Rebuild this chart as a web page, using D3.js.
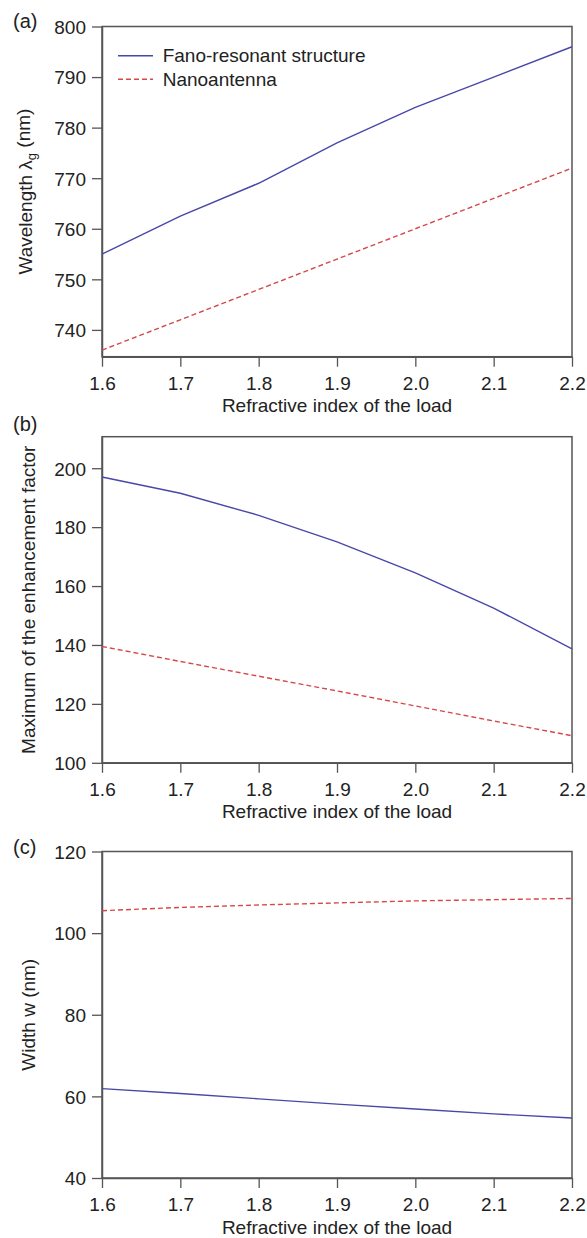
<!DOCTYPE html>
<html>
<head>
<meta charset="utf-8">
<script src="https://cdn.jsdelivr.net/npm/d3@7"></script>
<style>
  html, body { margin: 0; padding: 0; background: #fff; }
  svg { display: block; font-family: "Liberation Sans", Arial, Helvetica, sans-serif; }
</style>
</head>
<body>
<svg id="chart" width="587" height="1238"></svg>
<script>
// Refractive index of the load (shared x values)
const refractiveIndex = [1.6, 1.7, 1.8, 1.9, 2.0, 2.1, 2.2];

// (a) resonance wavelength, nm
const wavelengthFano    = [755, 762.5, 769, 777, 784, 790, 796];
const wavelengthAntenna = [736, 742, 748, 754, 760, 766, 772];

// (b) maximum of the enhancement factor
const enhancementFano    = [197, 191.5, 184, 175, 164.5, 152.5, 138.7];
const enhancementAntenna = [139.5, 134.4, 129.4, 124.4, 119.3, 114.2, 109.2];

// (c) width w, nm
const widthFano    = [61.9, 60.7, 59.4, 58.1, 56.9, 55.7, 54.7];
const widthAntenna = [105.5, 106.3, 106.9, 107.4, 107.9, 108.2, 108.5];

// tick values
const xTicks           = [1.6, 1.7, 1.8, 1.9, 2.0, 2.1, 2.2];
const wavelengthTicks  = [740, 750, 760, 770, 780, 790, 800];
const enhancementTicks = [100, 120, 140, 160, 180, 200];
const widthTicks       = [40, 60, 80, 100, 120];

const seriesNames = ["Fano-resonant structure", "Nanoantenna"];

const FANO_COLOR = "#4848a8";
const ANTENNA_COLOR = "#d4484c";
const AXIS_COLOR = "#555";
const TEXT_COLOR = "#222";
const FONT = 19;

const svg = d3.select("#chart");

const x0 = 102, x1 = 572;

const panels = [
  { tag: "(a)", top: 26.5, bottom: 356.7, domain: [734.7, 800], ticks: wavelengthTicks,
    fano: wavelengthFano, antenna: wavelengthAntenna, labelX: 32, legend: true,
    ylabel: ["Wavelength \u03bb", "g", " (nm)"], tagY: 27.5 },
  { tag: "(b)", top: 436.7, bottom: 762.8, domain: [100, 210.7], ticks: enhancementTicks,
    fano: enhancementFano, antenna: enhancementAntenna, labelX: 35,
    ylabel: ["Maximum of the enhancement factor"], tagY: 431 },
  { tag: "(c)", top: 851.5, bottom: 1178, domain: [40, 120], ticks: widthTicks,
    fano: widthFano, antenna: widthAntenna, labelX: 35,
    ylabel: ["Width w (nm)"], tagY: 854 }
];

panels.forEach(p => {
  const x = d3.scaleLinear().domain([1.6, 2.2]).range([x0, x1]);
  const y = d3.scaleLinear().domain(p.domain).range([p.bottom, p.top]);
  const g = svg.append("g");

  // plot frame
  g.append("rect")
    .attr("x", x0).attr("y", p.top)
    .attr("width", x1 - x0).attr("height", p.bottom - p.top)
    .attr("fill", "none").attr("stroke", AXIS_COLOR).attr("stroke-width", 1.5);

  // x axis
  const xa = g.append("g")
    .attr("transform", `translate(0,${p.bottom})`)
    .call(d3.axisBottom(x).tickValues(xTicks).tickFormat(d3.format(".1f"))
      .tickSizeInner(10).tickSizeOuter(0).tickPadding(10));
  xa.select(".domain").attr("stroke", AXIS_COLOR).attr("stroke-width", 1.5);
  xa.selectAll(".tick line").attr("stroke", AXIS_COLOR).attr("stroke-width", 1.3);
  xa.selectAll(".tick text").attr("fill", TEXT_COLOR)
    .style("font-size", FONT + "px").style("font-family", "inherit");

  // y axis
  const ya = g.append("g")
    .attr("transform", `translate(${x0},0)`)
    .call(d3.axisLeft(y).tickValues(p.ticks).tickFormat(d3.format("d"))
      .tickSizeInner(10).tickSizeOuter(0).tickPadding(6));
  ya.select(".domain").attr("stroke", AXIS_COLOR).attr("stroke-width", 1.5);
  ya.selectAll(".tick line").attr("stroke", AXIS_COLOR).attr("stroke-width", 1.3);
  ya.selectAll(".tick text").attr("fill", TEXT_COLOR).attr("dy", "0.36em")
    .style("font-size", FONT + "px").style("font-family", "inherit");

  // x axis title
  g.append("text")
    .attr("x", (x0 + x1) / 2).attr("y", p.bottom + 55.5)
    .attr("text-anchor", "middle").attr("fill", TEXT_COLOR)
    .style("font-size", FONT + "px")
    .text("Refractive index of the load");

  // y axis title
  const yl = g.append("text")
    .attr("transform", `translate(${p.labelX},${(p.top + p.bottom) / 2}) rotate(-90)`)
    .attr("text-anchor", "middle").attr("fill", TEXT_COLOR)
    .style("font-size", FONT + "px");
  if (p.ylabel.length === 3) {
    yl.append("tspan").text(p.ylabel[0]);
    yl.append("tspan").attr("dy", "0.3em").style("font-size", "13px").text(p.ylabel[1]);
    yl.append("tspan").attr("dy", "-0.3em").text(p.ylabel[2]);
  } else {
    yl.text(p.ylabel[0]);
  }

  // panel tag
  g.append("text")
    .attr("x", 13).attr("y", p.tagY)
    .attr("fill", TEXT_COLOR).style("font-size", "20px")
    .text(p.tag);

  const line = d3.line().x((d, i) => x(refractiveIndex[i])).y(d => y(d));

  g.append("path").datum(p.fano)
    .attr("d", line).attr("fill", "none")
    .attr("stroke", FANO_COLOR).attr("stroke-width", 1.4);

  g.append("path").datum(p.antenna)
    .attr("d", line).attr("fill", "none")
    .attr("stroke", ANTENNA_COLOR).attr("stroke-width", 1.4)
    .attr("stroke-dasharray", "5,3");

  if (p.legend) {
    const items = [
      { name: seriesNames[0], color: FANO_COLOR, dash: null, y: 55.7 },
      { name: seriesNames[1], color: ANTENNA_COLOR, dash: "5,3", y: 79.3 }
    ];
    const lg = g.append("g");
    items.forEach(it => {
      lg.append("line")
        .attr("x1", 118).attr("x2", 153).attr("y1", it.y).attr("y2", it.y)
        .attr("stroke", it.color).attr("stroke-width", 1.4)
        .attr("stroke-dasharray", it.dash);
      lg.append("text")
        .attr("x", 162.7).attr("y", it.y + 6.5)
        .attr("fill", TEXT_COLOR).style("font-size", FONT + "px")
        .text(it.name);
    });
  }
});
</script>
</body>
</html>
